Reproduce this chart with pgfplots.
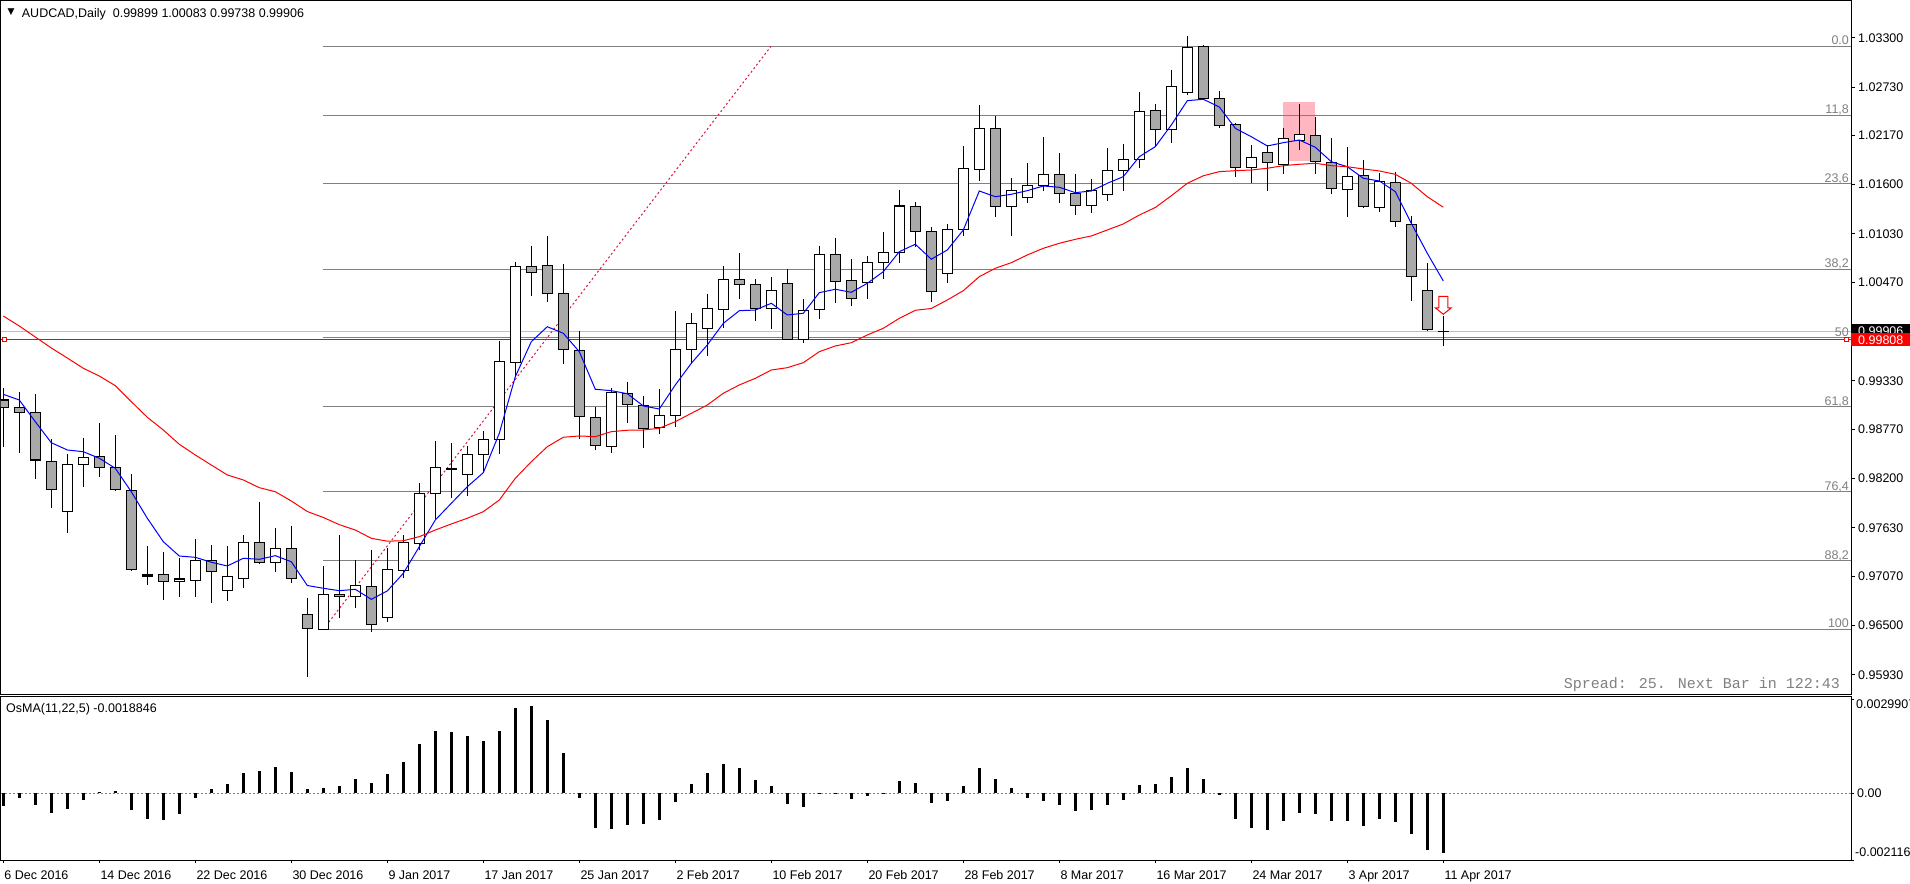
\documentclass[border=0pt]{standalone}
\usepackage{pgfplots}
\pgfplotsset{compat=1.18}
\usepackage{pgfplotstable}
\usepackage{fontspec}
\setmainfont{Liberation Sans}
\newfontfamily\mtmono{Liberation Mono}
\newfontfamily\dejavu{DejaVu Sans}
\definecolor{fibgray}{RGB}{128,128,128}
\definecolor{bidgray}{RGB}{192,192,192}
\definecolor{beargray}{RGB}{169,169,169}
\definecolor{hlpink}{RGB}{255,182,193}
\definecolor{mtcrimson}{RGB}{220,20,60}
\definecolor{mtblue}{RGB}{0,0,255}
\definecolor{mtred}{RGB}{255,0,0}
\newcommand\mt{\fontsize{12.5bp}{15bp}\selectfont}

\pgfdeclareplotmark{mtarrow}{%
  \pgfpathmoveto{\pgfpoint{0bp}{0bp}}%
  \pgfpathlineto{\pgfpoint{8bp}{6.5bp}}%
  \pgfpathlineto{\pgfpoint{4.5bp}{6.5bp}}%
  \pgfpathlineto{\pgfpoint{4.5bp}{18bp}}%
  \pgfpathlineto{\pgfpoint{-4.5bp}{18bp}}%
  \pgfpathlineto{\pgfpoint{-4.5bp}{6.5bp}}%
  \pgfpathlineto{\pgfpoint{-8bp}{6.5bp}}%
  \pgfpathclose
  \pgfusepathqfillstroke}

% daily candles: bar index, open, high, low, close
\pgfplotstableread{
i o h l c
0 0.99109 0.99245 0.98562 0.99025
1 0.99025 0.99198 0.98492 0.98967
2 0.98967 0.99179 0.98192 0.98415
3 0.98400 0.98655 0.97856 0.98076
4 0.97822 0.98484 0.97567 0.98365
5 0.98365 0.98670 0.98099 0.98446
6 0.98458 0.98847 0.98222 0.98331
7 0.98331 0.98704 0.98060 0.98076
8 0.98065 0.98253 0.97127 0.97151
9 0.97085 0.97420 0.96969 0.97073
10 0.97093 0.97351 0.96795 0.97012
11 0.97012 0.97281 0.96834 0.97038
12 0.97023 0.97501 0.96834 0.97255
13 0.97255 0.97432 0.96764 0.97127
14 0.96908 0.97420 0.96787 0.97070
15 0.97046 0.97547 0.96938 0.97463
16 0.97463 0.97926 0.97208 0.97232
17 0.97232 0.97628 0.97123 0.97394
18 0.97394 0.97652 0.96996 0.97046
19 0.96630 0.96819 0.95901 0.96468
20 0.96456 0.97189 0.96456 0.96861
21 0.96861 0.97547 0.96591 0.96838
22 0.96838 0.97258 0.96699 0.96965
23 0.96954 0.97370 0.96422 0.96514
24 0.96595 0.97397 0.96537 0.97150
25 0.97139 0.97547 0.97046 0.97463
26 0.97451 0.98153 0.97374 0.98030
27 0.98030 0.98635 0.97729 0.98331
28 0.98314 0.98608 0.97979 0.98302
29 0.98250 0.98577 0.98002 0.98481
30 0.98481 0.98751 0.98268 0.98655
31 0.98655 0.99792 0.98484 0.99557
32 0.99545 1.00706 0.99379 1.00656
33 1.00656 1.00891 1.00312 1.00587
34 1.00668 1.01006 1.00246 1.00339
35 1.00344 1.00683 0.99522 0.99696
36 0.99684 0.99904 0.98655 0.98921
37 0.98909 0.99028 0.98531 0.98585
38 0.98574 0.99245 0.98492 0.99198
39 0.99187 0.99314 0.98840 0.99059
40 0.99048 0.99155 0.98557 0.98782
41 0.98793 0.99233 0.98712 0.98932
42 0.98932 1.00139 0.98800 0.99696
43 0.99696 1.00112 0.99522 0.99996
44 0.99939 1.00335 0.99618 1.00170
45 1.00158 1.00659 0.99939 1.00506
46 1.00506 1.00810 1.00274 1.00448
47 1.00448 1.00506 1.00027 1.00170
48 1.00170 1.00532 0.99934 1.00378
49 1.00459 1.00625 0.99811 0.99811
50 0.99811 1.00278 0.99772 1.00147
51 1.00158 1.00887 1.00043 1.00795
52 1.00795 1.00983 1.00235 1.00482
53 1.00494 1.00740 1.00200 1.00286
54 1.00471 1.00775 1.00281 1.00702
55 1.00702 1.01053 1.00513 1.00818
56 1.00818 1.01539 1.00691 1.01354
57 1.01350 1.01396 1.00883 1.01061
58 1.01061 1.01111 1.00246 1.00367
59 1.00575 1.01145 1.00466 1.01084
60 1.01084 1.02048 1.01010 1.01790
61 1.01778 1.02522 1.01646 1.02252
62 1.02252 1.02395 1.01230 1.01346
63 1.01346 1.01674 1.01010 1.01535
64 1.01454 1.01848 1.01392 1.01593
65 1.01588 1.02152 1.01531 1.01720
66 1.01720 1.01967 1.01392 1.01500
67 1.01500 1.01720 1.01253 1.01362
68 1.01362 1.01666 1.01276 1.01535
69 1.01489 1.02021 1.01415 1.01767
70 1.01767 1.02067 1.01531 1.01894
71 1.01894 1.02669 1.01790 1.02449
72 1.02461 1.02534 1.02042 1.02241
73 1.02241 1.02927 1.02086 1.02738
74 1.02669 1.03320 1.02634 1.03190
75 1.03201 1.03216 1.02592 1.02600
76 1.02600 1.02684 1.02252 1.02287
77 1.02299 1.02310 1.01686 1.01801
78 1.01801 1.02056 1.01616 1.01917
79 1.01975 1.02056 1.01531 1.01859
80 1.01836 1.02252 1.01720 1.02137
81 1.02114 1.02534 1.01998 1.02183
82 1.02172 1.02380 1.01727 1.01871
83 1.01859 1.02137 1.01489 1.01558
84 1.01547 1.02033 1.01223 1.01697
85 1.01709 1.01882 1.01327 1.01350
86 1.01338 1.01743 1.01281 1.01639
87 1.01628 1.01743 1.01107 1.01177
88 1.01142 1.01234 1.00258 1.00540
89 1.00378 1.00691 0.99911 0.99927
90 0.99899 1.00083 0.99738 0.99906
}\candles

% fast moving average (blue)
\pgfplotstableread{
i v
0 0.99175
1 0.99109
2 0.98858
3 0.98615
4 0.98531
5 0.98511
6 0.98435
7 0.98319
8 0.98048
9 0.97741
10 0.97470
11 0.97304
12 0.97289
13 0.97232
14 0.97189
15 0.97278
16 0.97266
17 0.97308
18 0.97238
19 0.96963
20 0.96931
21 0.96903
22 0.96919
23 0.96803
24 0.96900
25 0.97104
26 0.97412
27 0.97721
28 0.97914
29 0.98106
30 0.98268
31 0.98724
32 0.99379
33 0.99784
34 0.99957
35 0.99881
36 0.99668
37 0.99233
38 0.99217
39 0.99182
40 0.99040
41 0.99005
42 0.99283
43 0.99534
44 0.99746
45 0.99996
46 1.00142
47 1.00150
48 1.00228
49 1.00093
50 1.00112
51 1.00351
52 1.00390
53 1.00355
54 1.00459
55 1.00594
56 1.00825
57 1.00911
58 1.00738
59 1.00845
60 1.01076
61 1.01527
62 1.01461
63 1.01489
64 1.01531
65 1.01585
66 1.01570
67 1.01508
68 1.01527
69 1.01616
70 1.01693
71 1.01924
72 1.02040
73 1.02291
74 1.02572
75 1.02588
76 1.02499
77 1.02252
78 1.02155
79 1.02048
80 1.02086
81 1.02117
82 1.02033
83 1.01866
84 1.01808
85 1.01674
86 1.01643
87 1.01519
88 1.01153
89 1.00806
90 1.00486
}\bluema

% slow moving average (red)
\pgfplotstableread{
i v
0 1.00081
1 0.99965
2 0.99838
3 0.99711
4 0.99595
5 0.99476
6 0.99387
7 0.99275
8 0.99090
9 0.98909
10 0.98762
11 0.98597
12 0.98473
13 0.98357
14 0.98242
15 0.98184
16 0.98095
17 0.98048
18 0.97941
19 0.97819
20 0.97750
21 0.97667
22 0.97605
23 0.97509
24 0.97476
25 0.97481
26 0.97528
27 0.97605
28 0.97675
29 0.97741
30 0.97817
31 0.97952
32 0.98203
33 0.98395
34 0.98569
35 0.98678
36 0.98693
37 0.98685
38 0.98743
39 0.98759
40 0.98762
41 0.98782
42 0.98858
43 0.98955
44 0.99051
45 0.99187
46 0.99283
47 0.99360
48 0.99456
49 0.99483
50 0.99541
51 0.99668
52 0.99734
53 0.99772
54 0.99861
55 0.99939
56 1.00054
57 1.00147
58 1.00168
59 1.00266
60 1.00374
61 1.00536
62 1.00633
63 1.00698
64 1.00787
65 1.00864
66 1.00922
67 1.00968
68 1.01007
69 1.01076
70 1.01146
71 1.01249
72 1.01336
73 1.01472
74 1.01616
75 1.01703
76 1.01751
77 1.01762
78 1.01770
79 1.01790
80 1.01820
81 1.01836
82 1.01848
83 1.01820
84 1.01808
85 1.01782
86 1.01759
87 1.01720
88 1.01616
89 1.01461
90 1.01339
}\redma

% OsMA(11,22,5) histogram
\pgfplotstableread{
i v
0 -0.000403
1 -0.000138
2 -0.000372
3 -0.000626
4 -0.000499
5 -0.000212
6 0.000053
7 0.000074
8 -0.000541
9 -0.000807
10 -0.000839
11 -0.000648
12 -0.000138
13 0.000138
14 0.000297
15 0.000658
16 0.000711
17 0.000839
18 0.000690
19 0.000138
20 0.000180
21 0.000234
22 0.000467
23 0.000340
24 0.000626
25 0.001008
26 0.001561
27 0.001964
28 0.001932
29 0.001805
30 0.001645
31 0.001964
32 0.002696
33 0.002781
34 0.002335
35 0.001263
36 -0.000138
37 -0.001093
38 -0.001125
39 -0.000998
40 -0.000966
41 -0.000839
42 -0.000265
43 0.000297
44 0.000658
45 0.000934
46 0.000807
47 0.000425
48 0.000234
49 -0.000329
50 -0.000425
51 0.000010
52 0.000010
53 -0.000170
54 -0.000074
55 0.000020
56 0.000393
57 0.000340
58 -0.000297
59 -0.000234
60 0.000234
61 0.000807
62 0.000456
63 0.000170
64 -0.000138
65 -0.000234
66 -0.000361
67 -0.000552
68 -0.000541
69 -0.000382
70 -0.000202
71 0.000265
72 0.000297
73 0.000520
74 0.000807
75 0.000456
76 -0.000064
77 -0.000807
78 -0.001093
79 -0.001157
80 -0.000870
81 -0.000626
82 -0.000658
83 -0.000870
84 -0.000870
85 -0.001040
86 -0.000807
87 -0.000902
88 -0.001284
89 -0.001805
90 -0.0018846
}\osma

\pgfplotsset{
  mtmain/.style={scale only axis, width=1850.5bp, height=693.8bp,
    at={(0.5bp,189.7bp)}, anchor=south west,
    xmin=-0.175, xmax=115.48, ymin=0.957044, ymax=1.03731},
}
\tikzset{fiblab/.style={font=\mt, text=fibgray, anchor=base east, inner sep=0pt, yshift=1.5bp}}

\begin{document}
\begin{tikzpicture}
\useasboundingbox (0,0) rectangle (1910bp,884bp);

% ---------- main panel: background objects and wicks ----------
\begin{axis}[mtmain, clip mode=individual,
  axis line style={black, line width=1bp},
  xtick=\empty,
  ytick={0.9593,0.965,0.9707,0.9763,0.982,0.9877,0.9933,1.0047,1.0103,1.016,1.0217,1.0273,1.033},
  yticklabels={0.95930,0.96500,0.97070,0.97630,0.98200,0.98770,0.99330,1.00470,1.01030,1.01600,1.02170,1.02730,1.03300},
  ytick pos=right, yticklabel pos=right,
  tick align=outside, major tick length=4bp,
  major tick style={black, line width=1bp},
  yticklabel style={font=\mt, anchor=west, inner sep=0pt, xshift=3bp},
]
\addplot[fill=hlpink, draw=none] coordinates {(80,1.01878) (81.96,1.01878) (81.96,1.02557) (80,1.02557)} -- cycle;
\addplot[fibgray, line width=1bp] coordinates {(20,1.03201) (115.48,1.03201)};
\addplot[fibgray, line width=1bp] coordinates {(20,1.02405) (115.48,1.02405)};
\addplot[fibgray, line width=1bp] coordinates {(20,1.01609) (115.48,1.01609)};
\addplot[fibgray, line width=1bp] coordinates {(20,1.00624) (115.48,1.00624)};
\addplot[fibgray, line width=1bp] coordinates {(20,0.99829) (115.48,0.99829)};
\addplot[fibgray, line width=1bp] coordinates {(20,0.99033) (115.48,0.99033)};
\addplot[fibgray, line width=1bp] coordinates {(20,0.98048) (115.48,0.98048)};
\addplot[fibgray, line width=1bp] coordinates {(20,0.97252) (115.48,0.97252)};
\addplot[fibgray, line width=1bp] coordinates {(20,0.96456) (115.48,0.96456)};
\addplot[bidgray, line width=1bp] coordinates {(-0.175,0.99906) (115.48,0.99906)};
\addplot[mtred, line width=1bp] coordinates {(-0.175,0.99808) (115.48,0.99808)};
\addplot[mtred, only marks, mark=square*, mark size=2bp, mark options={fill=white, draw=mtred, line width=1bp}] coordinates {(0.1,0.99808) (115.2,0.99808)};
\addplot[mtcrimson, line width=1bp, dash pattern=on 2bp off 2.5bp] coordinates {(20,0.96456) (47.98,1.03201)};
\node[fiblab] at (axis cs:115.36,1.03201) {0.0};
\node[fiblab] at (axis cs:115.36,1.02405) {11,8};
\node[fiblab] at (axis cs:115.36,1.01609) {23,6};
\node[fiblab] at (axis cs:115.36,1.00624) {38,2};
\node[fiblab] at (axis cs:115.36,0.99829) {50};
\node[fiblab] at (axis cs:115.36,0.99033) {61,8};
\node[fiblab] at (axis cs:115.36,0.98048) {76,4};
\node[fiblab] at (axis cs:115.36,0.97252) {88,2};
\node[fiblab] at (axis cs:115.36,0.96456) {100};
% wicks (high-low ranges)
\addplot[draw=none, mark=none,
  error bars/.cd, y dir=both, y explicit, error mark=none,
  error bar style={draw=black, line width=1bp}]
  table[x=i, y expr={(\thisrow{h}+\thisrow{l})/2}, y error expr={(\thisrow{h}-\thisrow{l})/2}] {\candles};
\end{axis}

% ---------- candle bodies ----------
\begin{axis}[mtmain, hide axis, ybar stacked, bar width=9.6bp]
\addplot[draw=none, fill=none] table[x=i, y expr={min(\thisrow{o},\thisrow{c})}] {\candles};
\addplot[draw=black, fill=white, line width=1.2bp] table[x=i, y expr={max(\thisrow{c}-\thisrow{o},0)}] {\candles};
\addplot[draw=black, fill=beargray, line width=1.2bp] table[x=i, y expr={max(\thisrow{o}-\thisrow{c},0)}] {\candles};
\end{axis}

% ---------- moving averages, signal arrow, price boxes ----------
\begin{axis}[mtmain, hide axis, clip mode=individual]
\addplot[mtblue, line width=1bp] table[x=i, y=v] {\bluema};
\addplot[mtred, line width=1bp] table[x=i, y=v] {\redma};
\addplot[only marks, mark=mtarrow, mark options={draw=mtred, fill=white, line width=1bp}] coordinates {(90,1.00101)};
\node[fill=black, text=white, font=\mt, anchor=west, inner xsep=7bp, inner ysep=2.5bp, text height=9bp, text depth=0bp] at (axis cs:115.48,0.99906) {0.99906};
\node[fill=mtred, text=white, font=\mt, anchor=west, inner xsep=7bp, inner ysep=2bp, text height=9bp, text depth=0bp] at (axis cs:115.48,0.99808) {0.99808};
\end{axis}

% ---------- OsMA panel ----------
\begin{axis}[scale only axis, width=1850.5bp, height=163.3bp, at={(0.5bp,24bp)}, anchor=south west,
  xmin=-0.175, xmax=115.48, ymin=-0.002116, ymax=0.003065, clip mode=individual,
  axis line style={black, line width=1bp},
  xtick={0,6,...,90},
  xticklabels={6 Dec 2016,14 Dec 2016,22 Dec 2016,30 Dec 2016,9 Jan 2017,17 Jan 2017,25 Jan 2017,2 Feb 2017,10 Feb 2017,20 Feb 2017,28 Feb 2017,8 Mar 2017,16 Mar 2017,24 Mar 2017,3 Apr 2017,11 Apr 2017},
  xtick pos=bottom,
  ytick={-0.002116,0,0.0029907}, yticklabels={,0.00,},
  ytick pos=right, yticklabel pos=right, scaled y ticks=false,
  tick align=outside, major tick length=3bp,
  major tick style={black, line width=1bp},
  xticklabel style={font=\mt, anchor=base west, inner sep=0pt, xshift=1bp, yshift=-16.7bp},
  yticklabel style={font=\mt, anchor=west, inner sep=0pt, xshift=3bp},
]
\addplot[fibgray, line width=1bp, dash pattern=on 2bp off 2bp] coordinates {(-0.175,0) (115.48,0)};
\addplot[ycomb, black, line width=2.5bp] table[x=i, y=v] {\osma};
\node[font=\mt, anchor=north west, inner sep=0pt] at ([xshift=5bp, yshift=-3bp]rel axis cs:1,1) {0.0029907};
\node[font=\mt, anchor=south west, inner sep=0pt] at ([xshift=4bp, yshift=3bp]rel axis cs:1,0) {-0.002116};
\end{axis}

% ---------- texts ----------
\node[font={\dejavu\fontsize{9bp}{9bp}\selectfont}, inner sep=0pt] at (11bp,871.5bp) {▼};
\node[font=\mt, anchor=base west, inner sep=0pt] at (21.7bp,866.7bp) {AUDCAD,Daily\ \ 0.99899 1.00083 0.99738 0.99906};
\node[font=\mt, anchor=base west, inner sep=0pt] at (6bp,171.5bp) {OsMA(11,22,5) -0.0018846};
\node[font={\mtmono\fontsize{15bp}{15bp}\selectfont}, text=fibgray, anchor=base east, inner sep=0pt] at (1840bp,195bp) {Spread: 25. Next Bar in 122:43};
\end{tikzpicture}
\end{document}
